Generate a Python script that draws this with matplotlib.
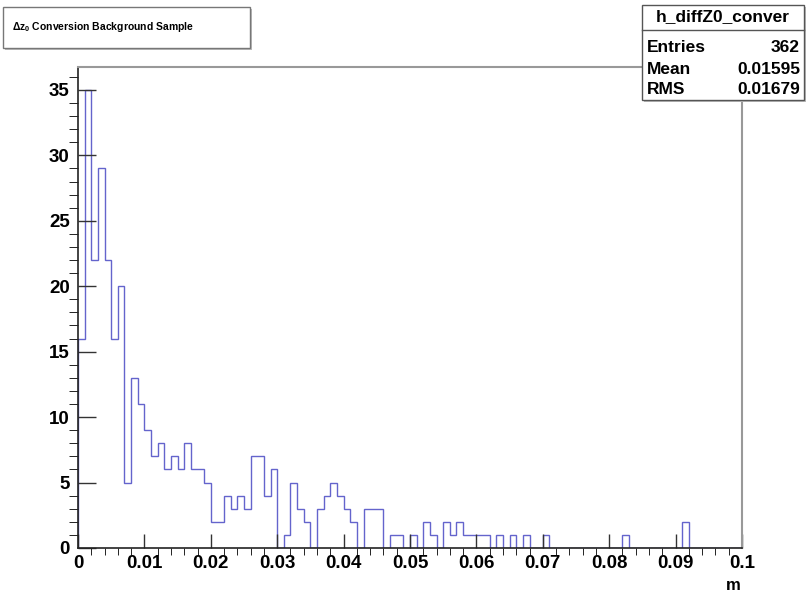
import numpy as np
import matplotlib.pyplot as plt
from matplotlib.patches import Rectangle
from matplotlib.lines import Line2D

# histogram contents, 100 bins of 0.001 m from 0 to 0.1
counts = [16, 35, 22, 29, 22, 16, 20, 5, 13, 11,
          9, 7, 8, 6, 7, 6, 8, 6, 6, 5,
          2, 2, 4, 3, 4, 3, 7, 7, 4, 6,
          0, 1, 5, 3, 2, 0, 3, 4, 5, 4,
          3, 2, 0, 3, 3, 3, 0, 1, 1, 0,
          1, 0, 2, 1, 0, 2, 1, 2, 1, 1,
          1, 1, 0, 1, 0, 1, 0, 1, 0, 0,
          1, 0, 0, 0, 0, 0, 0, 0, 0, 0,
          0, 0, 1, 0, 0, 0, 0, 0, 0, 0,
          0, 2, 0, 0, 0, 0, 0, 0, 0, 0]
x_min, x_max, n_bins = 0.0, 0.1, 100
x_ticks = [0, 0.01, 0.02, 0.03, 0.04, 0.05, 0.06, 0.07, 0.08, 0.09, 0.1]
x_tick_labels = ['0', '0.01', '0.02', '0.03', '0.04', '0.05', '0.06', '0.07', '0.08', '0.09', '0.1']
y_ticks = [0, 5, 10, 15, 20, 25, 30, 35]

title = r'$\Delta$z$_0$ Conversion Background Sample'
stats_name = 'h_diffZ0_conver'
stats = [('Entries', '362'), ('Mean', '0.01595'), ('RMS', '0.01679')]
x_title = 'm'

plt.rcParams['font.family'] = ['Liberation Sans', 'DejaVu Sans']
plt.rcParams['font.weight'] = 'bold'
plt.rcParams['mathtext.fontset'] = 'custom'
plt.rcParams['mathtext.rm'] = 'Liberation Sans:bold'
plt.rcParams['mathtext.it'] = 'Liberation Sans:bold'

W, H = 807, 595
fig = plt.figure(figsize=(W / 100, H / 100), dpi=100)


def fx(x):
    return x / W


def fy(y):
    return 1 - y / H


left, right, top, bottom = 78, 742, 67, 548
ax = fig.add_axes([fx(left), fy(bottom), fx(right) - fx(left), fy(top) - fy(bottom)])

edges = np.linspace(x_min, x_max, n_bins + 1)
ax.stairs(counts, edges, baseline=0, color='#6464cc', linewidth=1.0)

ax.set_xlim(x_min, x_max)
ax.set_ylim(0, max(counts) * 1.05)
ax.set_xticks(x_ticks)
ax.set_xticklabels(x_tick_labels)
ax.set_xticks(np.arange(0, 0.1001, 0.002), minor=True)
ax.set_yticks(y_ticks)
ax.set_yticks(np.arange(0, 37, 1), minor=True)
ax.tick_params(direction='in', labelsize=13.5, width=1, color='#333333')
ax.tick_params(axis='y', which='major', length=13, pad=6)
ax.tick_params(axis='y', which='minor', length=6.5)
ax.tick_params(axis='x', which='major', length=10, pad=5)
ax.tick_params(axis='x', which='minor', length=5)
for lab in ax.get_xticklabels() + ax.get_yticklabels():
    lab.set_fontweight('bold')

for s in ['left', 'bottom']:
    ax.spines[s].set_color('#222222')
    ax.spines[s].set_linewidth(1.2)
for s in ['top', 'right']:
    ax.spines[s].set_color('#999999')
    ax.spines[s].set_linewidth(1.5)

fig.text(fx(741), fy(585), x_title, ha='right', va='center', fontsize=12, fontweight='bold')

# title box
tb = (3, 7, 250, 48)
fig.add_artist(Rectangle((fx(tb[0] + 2), fy(tb[3] + 2)), fx(tb[2] - tb[0]), fy(tb[1]) - fy(tb[3]),
                         transform=fig.transFigure, facecolor='#bbbbbb', edgecolor='none', zorder=5))
fig.add_artist(Rectangle((fx(tb[0]), fy(tb[3])), fx(tb[2] - tb[0]), fy(tb[1]) - fy(tb[3]),
                         transform=fig.transFigure, facecolor='white', edgecolor='#777777', lw=1, zorder=6))
fig.text(fx(12), fy(27), title, ha='left', va='center', fontsize=7.5, fontweight='bold', zorder=7)

# stats box
sb = (642, 5, 804, 100)
fig.add_artist(Rectangle((fx(sb[0] + 2), fy(sb[3] + 2)), fx(sb[2] - sb[0]), fy(sb[1]) - fy(sb[3]),
                         transform=fig.transFigure, facecolor='#bbbbbb', edgecolor='none', zorder=5))
fig.add_artist(Rectangle((fx(sb[0]), fy(sb[3])), fx(sb[2] - sb[0]), fy(sb[1]) - fy(sb[3]),
                         transform=fig.transFigure, facecolor='white', edgecolor='#555555', lw=1, zorder=6))
fig.add_artist(Line2D([fx(sb[0]), fx(sb[2])], [fy(30), fy(30)], transform=fig.transFigure,
                      color='#555555', lw=1, zorder=7))
fig.text(fx((sb[0] + sb[2]) / 2), fy(17), stats_name, ha='center', va='center', fontsize=12.5,
         fontweight='bold', zorder=8)
for i, (k, v) in enumerate(stats):
    yy = 48 + i * 21
    fig.text(fx(647), fy(yy), k, ha='left', va='center', fontsize=12.5, fontweight='bold', zorder=8)
    fig.text(fx(800), fy(yy), v, ha='right', va='center', fontsize=12.5, fontweight='bold', zorder=8)

fig.savefig('out.png', dpi=100)
